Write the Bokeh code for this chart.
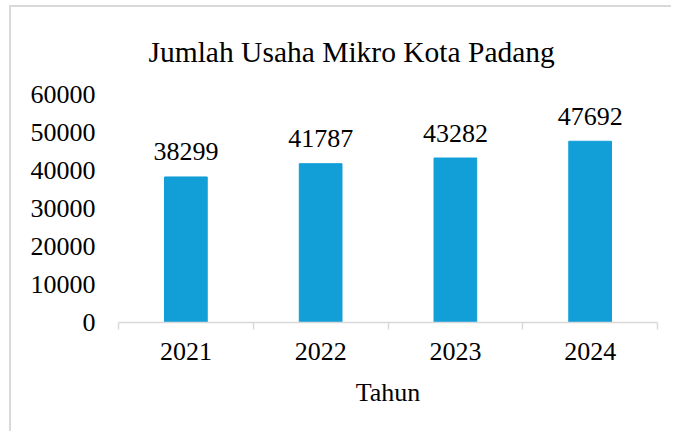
from bokeh.plotting import figure
from bokeh.models import Range1d, FixedTicker, ColumnDataSource
from bokeh.core.properties import value
from bokeh.embed import file_html
from bokeh.resources import INLINE

years = ["2021", "2022", "2023", "2024"]
jumlah = [38299, 41787, 43282, 47692]
y_ticks = [0, 10000, 20000, 30000, 40000, 50000, 60000]
title_text = "Jumlah Usaha Mikro Kota Padang"

FONT = "Liberation Serif"
xs = [i + 0.5 for i in range(len(years))]
src = ColumnDataSource(dict(x=xs, top=jumlah, lab=[str(v) for v in jumlah]))

p = figure(width=662, height=426, output_backend="svg", toolbar_location=None,
           x_range=Range1d(0, len(years)), y_range=Range1d(0, 60000),
           min_border_left=107, min_border_right=16, min_border_top=87,
           min_border_bottom=111)
p.styles = {"border-top": "2px solid #d9d9d9", "border-left": "2px solid #d9d9d9",
            "margin-left": "9px", "margin-top": "5px"}

p.vbar(x="x", top="top", width=0.317, source=src, color="#129ED7")
p.text(x="x", y="top", text="lab", source=src, text_align="center",
       text_baseline="alphabetic", y_offset=-25,
       text_font=value(FONT), text_font_size="26px", text_color="black")

p.title.text = title_text
p.title.text_font = FONT
p.title.text_font_size = "29.5px"
p.title.text_font_style = "normal"
p.title.text_color = "black"
p.title.align = "left"
p.title.offset = 30
p.title.standoff = 53

p.xgrid.visible = False
p.ygrid.visible = False
p.outline_line_color = None

xa = p.xaxis[0]
xa.ticker = FixedTicker(ticks=xs, minor_ticks=list(range(len(years) + 1)))
xa.major_label_overrides = {x: y for x, y in zip(xs, years)}
xa.major_tick_line_color = None
xa.major_tick_out = 0
xa.major_tick_in = 0
xa.minor_tick_out = 7
xa.minor_tick_in = 0
xa.minor_tick_line_color = "#d9d9d9"
xa.axis_line_color = "#d9d9d9"
xa.axis_line_width = 1.5
xa.minor_tick_line_width = 1.5
xa.major_label_standoff = 13
xa.major_label_text_font = FONT
xa.major_label_text_font_size = "26px"
xa.major_label_text_color = "black"
xa.axis_label = "Tahun"
xa.axis_label_text_font = FONT
xa.axis_label_text_font_size = "26px"
xa.axis_label_text_font_style = "normal"
xa.axis_label_text_color = "black"
xa.axis_label_standoff = 15

ya = p.yaxis[0]
ya.ticker = FixedTicker(ticks=y_ticks)
ya.axis_line_color = None
ya.major_tick_line_color = None
ya.minor_tick_line_color = None
ya.major_tick_out = 0
ya.major_tick_in = 0
ya.major_label_standoff = 23
ya.major_label_text_font = FONT
ya.major_label_text_font_size = "26px"
ya.major_label_text_color = "black"

open("out.html", "w").write(file_html(p, INLINE))
